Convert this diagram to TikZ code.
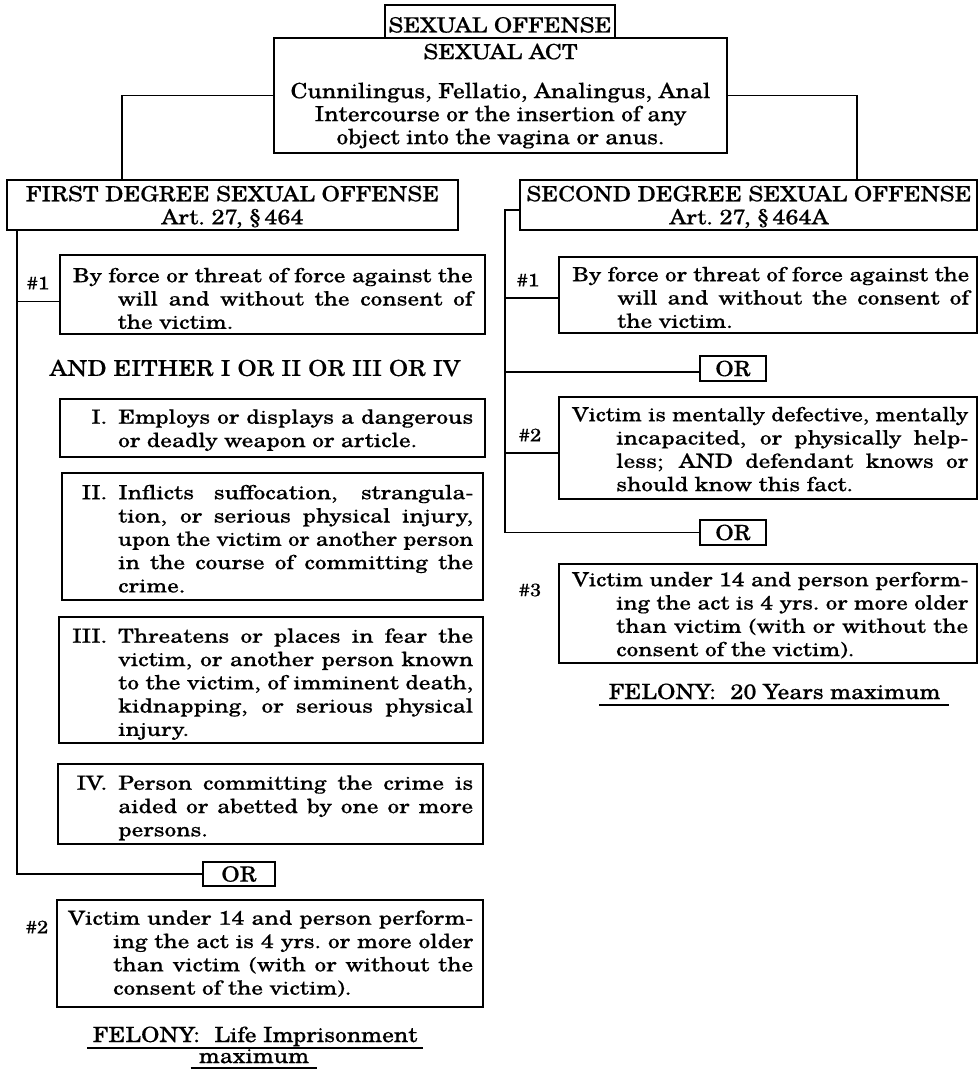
\documentclass[tikz,border=0pt]{standalone}
\usepackage{fontspec}
\usepackage{graphicx}
\setmainfont[FakeStretch=1.12, FakeBold=0.4]{TeX Gyre Schola}
\newfontfamily\bodyfont[FakeStretch=1.2, FakeBold=0.4]{TeX Gyre Schola}
\usetikzlibrary{calc}
\newsavebox\jlbox
\newcommand{\jl}[2]{\sbox\jlbox{#2}\ifdim\wd\jlbox>#1pt\relax\resizebox{#1pt}{\height}{#2}\else\makebox[#1pt][s]{#2}\fi}
\newcommand{\lab}[1]{\makebox[45pt][r]{#1\hspace{11pt}}}
\newcommand{\ind}[1]{\hspace*{#1pt}}
\tikzset{
  box/.style={draw, line width=1.6pt, inner sep=0pt, rectangle},
  body/.style={font=\bodyfont\fontsize{19.5}{23.3}\selectfont, align=left, inner sep=0pt, anchor=north west},
  head/.style={font=\fontsize{21}{23}\selectfont, align=center, inner sep=0pt},
  lbl/.style={font=\fontsize{18}{20}\selectfont, inner sep=0pt},
  felt/.style={font=\fontsize{21}{23}\selectfont, inner sep=0pt},
  conn/.style={line width=1.3pt},
}
\begin{document}
\begin{tikzpicture}[x=1pt, y=-1pt]
\useasboundingbox[fill=white] (0,0) rectangle (979,1070);

% ---- top boxes
\node[box, minimum width=230pt, minimum height=33pt] (so) at (500,21.5) {};
\node[head, anchor=base] (sot) at (500,32.5) {SEXUAL OFFENSE};
\node[box, minimum width=453pt, minimum height=115pt] (sa) at (500.5,95.5) {};
\node[head, anchor=north] (sat) at (500.5,42.9)
  {\strut SEXUAL ACT\\[16pt]\strut Cunnilingus, Fellatio, Analingus, Anal\\\strut Intercourse or the insertion of any\\\strut object into the vagina or anus.};
\node[box, minimum width=451pt, minimum height=50pt] (fd) at (232.5,205) {};
\node[head, font=\fontsize{21}{22}\selectfont, anchor=north] (fdt) at (232.5,185.6)
  {\strut FIRST DEGREE SEXUAL OFFENSE\\\strut Art.~27, \S\,464};
\node[box, minimum width=457pt, minimum height=50pt] (sd) at (748.5,205) {};
\node[head, font=\fontsize{21}{22}\selectfont, anchor=north] (sdt) at (749,185.6)
  {\strut SECOND DEGREE SEXUAL OFFENSE\\\strut Art.~27, \S\,464A};

% ---- left column
\node[box, minimum width=425pt, minimum height=79pt] (l1) at (272.5,294.5) {};
\node[body] (l1t) at (72.5,265.7)
  {\strut\jl{400}{By force or threat of force against the}\\
   \strut\ind{45}\jl{355}{will and without the consent of}\\
   \strut\ind{45}the victim.};
\node[lbl] (n1l) at (38,283) {\#1};
\node[head, font=\fontsize{22}{24}\selectfont] (either) at (255,368) {AND EITHER I OR II OR III OR IV};
\node[box, minimum width=425pt, minimum height=58pt] (bi) at (272.5,428) {};
\node[body] (bit) at (73,407.2)
  {\strut\lab{I.}\jl{355}{Employs or displays a dangerous}\\
   \strut\ind{45}or deadly weapon or article.};
\node[box, minimum width=421pt, minimum height=127pt] (bii) at (272.5,536.5) {};
\node[body] (biit) at (73,482.7)
  {\strut\lab{II.}\jl{355}{Inflicts suffocation, strangula-}\\
   \strut\ind{45}\jl{355}{tion, or serious physical injury,}\\
   \strut\ind{45}\jl{355}{upon the victim or another person}\\
   \strut\ind{45}\jl{355}{in the course of committing the}\\
   \strut\ind{45}crime.};
\node[box, minimum width=424pt, minimum height=126pt] (biii) at (271,680) {};
\node[body] (biiit) at (73,626.2)
  {\strut\lab{III.}\jl{355}{Threatens or places in fear the}\\
   \strut\ind{45}\jl{355}{victim, or another person known}\\
   \strut\ind{45}\jl{355}{to the victim, of imminent death,}\\
   \strut\ind{45}\jl{355}{kidnapping, or serious physical}\\
   \strut\ind{45}injury.};
\node[box, minimum width=425pt, minimum height=80pt] (biv) at (270.5,804) {};
\node[body] (bivt) at (73,773.2)
  {\strut\lab{IV.}\jl{355}{Person committing the crime is}\\
   \strut\ind{45}\jl{355}{aided or abetted by one or more}\\
   \strut\ind{45}persons.};
\node[box, head, minimum width=72pt, minimum height=24pt] (orl) at (239,874) {OR};
\node[box, minimum width=426pt, minimum height=107pt] (l2) at (270,953.5) {};
\node[body] (l2t) at (68,908.2)
  {\strut\jl{405}{Victim under 14 and person perform-}\\
   \strut\ind{45}\jl{360}{ing the act is 4 yrs.\ or more older}\\
   \strut\ind{45}\jl{360}{than victim (with or without the}\\
   \strut\ind{45}consent of the victim).};
\node[lbl] (n2l) at (37,927) {\#2};
\node[felt, anchor=base] (fell) at (255,1042) {FELONY:\hspace{0.7em}Life Imprisonment};
\node[felt, anchor=base] (felm) at (254,1063) {maximum};

% ---- right column
\node[box, minimum width=418pt, minimum height=76pt] (r1) at (768,295) {};
\node[body] (r1t) at (572,264.7)
  {\strut\jl{397}{By force or threat of force against the}\\
   \strut\ind{45}\jl{352}{will and without the consent of}\\
   \strut\ind{45}the victim.};
\node[lbl] (n1r) at (528,280) {\#1};
\node[box, head, minimum width=66pt, minimum height=25pt] (or1) at (733,368.5) {OR};
\node[box, minimum width=418pt, minimum height=102pt] (r2) at (768,448) {};
\node[body] (r2t) at (572,404.7)
  {\strut\jl{396}{Victim is mentally defective, mentally}\\
   \strut\ind{44}\jl{352}{incapacited, or physically help-}\\
   \strut\ind{44}\jl{352}{less; AND defendant knows or}\\
   \strut\ind{44}should know this fact.};
\node[lbl] (n2r) at (530,435) {\#2};
\node[box, head, minimum width=66pt, minimum height=25pt] (or2) at (733,532.5) {OR};
\node[box, minimum width=418pt, minimum height=99pt] (r3) at (768,613.5) {};
\node[body] (r3t) at (572,569.7)
  {\strut\jl{396}{Victim under 14 and person perform-}\\
   \strut\ind{44}\jl{352}{ing the act is 4 yrs.\ or more older}\\
   \strut\ind{44}\jl{352}{than victim (with or without the}\\
   \strut\ind{44}consent of the victim).};
\node[lbl] (n3r) at (530,590) {\#3};
\node[felt, anchor=base] (felr) at (774.5,699) {FELONY:\hspace{0.7em}20 Years maximum};

% ---- connectors
\coordinate (fdj) at (122,180);
\coordinate (sdj) at (857,180);
\draw[conn] (sa.west) -| (fdj);
\draw[conn] (sa.east) -| (sdj);

\coordinate (lv) at (17,230);
\draw[conn] (lv) |- (orl.west);
\coordinate (lj1) at (17,301.5);
\draw[conn] (lj1) -- (lj1 -| l1.west);

\coordinate (rv) at (505,210);
\draw[conn] (rv -| sd.west) -- (rv) |- (or2.west);
\coordinate (rj1) at (505,298);
\draw[conn] (rj1) -- (rj1 -| r1.west);
\coordinate (rj2) at (505,372);
\draw[conn] (rj2) -- (rj2 -| or1.west);
\coordinate (rj3) at (505,453);
\draw[conn] (rj3) -- (rj3 -| r2.west);

% ---- underlines
\draw[conn] ($(fell.base west)+(-5,6)$) -- ($(fell.base east)+(5,6)$);
\draw[conn] ($(felm.base west)+(-8,5)$) -- ($(felm.base east)+(8,5)$);
\draw[conn] ($(felr.base west)+(-9,6)$) -- ($(felr.base east)+(8,6)$);
\end{tikzpicture}
\end{document}
